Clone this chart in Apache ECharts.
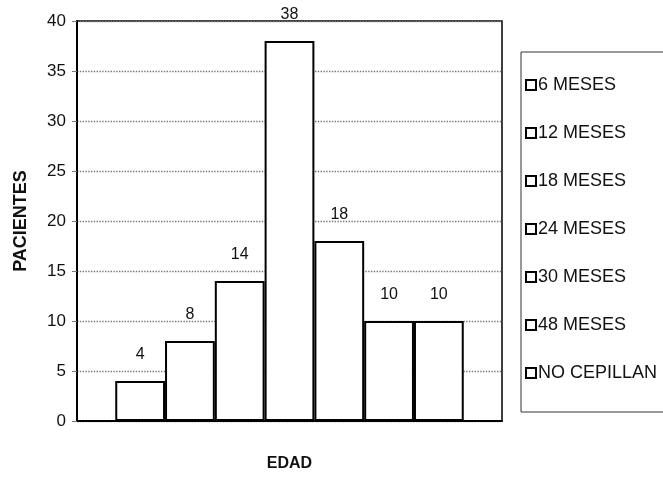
<!DOCTYPE html>
<html>
<head>
<meta charset="utf-8">
<script src="https://cdn.jsdelivr.net/npm/echarts@6/dist/echarts.min.js"></script>
<style>
html,body{margin:0;padding:0;background:#fff;}
#c{width:663px;height:477px;}
</style>
</head>
<body>
<div id="c"></div>
<script>
var categories = ['EDAD'];
var seriesNames = ['6 MESES', '12 MESES', '18 MESES', '24 MESES', '30 MESES', '48 MESES', 'NO CEPILLAN'];
var seriesValues = [4, 8, 14, 38, 18, 10, 10];
var yTicks = { min: 0, max: 40, interval: 5 };

var FONT = 'Liberation Sans, Arial, sans-serif';
var chart = echarts.init(document.getElementById('c'));

var series = seriesNames.map(function (name, i) {
  return {
    name: name,
    type: 'bar',
    data: [seriesValues[i]],
    barGap: '0%',
    barCategoryGap: '18%',
    itemStyle: { color: '#fff', borderColor: '#000', borderWidth: 2 },
    label: {
      show: true, position: 'top', distance: 18,
      fontFamily: FONT, fontSize: 16, color: '#111'
    },
    emphasis: { disabled: true }
  };
});

chart.setOption({
  backgroundColor: '#fff',
  animation: false,
  grid: {
    left: 77, right: 161, top: 21, bottom: 54,
    show: true, borderColor: '#000', borderWidth: 1.5, backgroundColor: 'transparent'
  },
  xAxis: {
    type: 'category',
    data: categories,
    axisLabel: { show: false },
    axisTick: { show: false },
    axisLine: { lineStyle: { color: '#000', width: 2 } },
    name: 'EDAD',
    nameLocation: 'middle',
    nameGap: 35,
    nameTextStyle: { fontFamily: FONT, fontSize: 16, fontWeight: 'bold', color: '#111' }
  },
  yAxis: {
    type: 'value',
    min: yTicks.min, max: yTicks.max, interval: yTicks.interval,
    axisLine: { show: true, lineStyle: { color: '#000', width: 2 } },
    axisTick: { show: true, length: 5, lineStyle: { color: '#777', width: 1 } },
    axisLabel: { margin: 11, fontFamily: FONT, fontSize: 17, color: '#111' },
    splitLine: { show: true, lineStyle: { color: '#777', type: 'dotted', width: 1.4 } },
    name: 'PACIENTES',
    nameLocation: 'middle',
    nameGap: 47,
    nameTextStyle: { fontFamily: FONT, fontSize: 18, fontWeight: 'bold', color: '#111' }
  },
  legend: {
    orient: 'vertical',
    left: 520, top: 71,
    itemWidth: 10, itemHeight: 10,
    itemGap: 30,
    icon: 'rect',
    itemStyle: { color: '#fff', borderColor: '#000', borderWidth: 2 },
    textStyle: { fontFamily: FONT, fontSize: 18, color: '#111', padding: [0, 0, 0, -3] },
    selectedMode: false,
    data: seriesNames
  },
  graphic: [{
    type: 'rect',
    shape: { x: 521, y: 52, width: 200, height: 360 },
    style: { fill: 'none', stroke: '#333', lineWidth: 1 },
    z: 10
  }],
  series: series
});
</script>
</body>
</html>
